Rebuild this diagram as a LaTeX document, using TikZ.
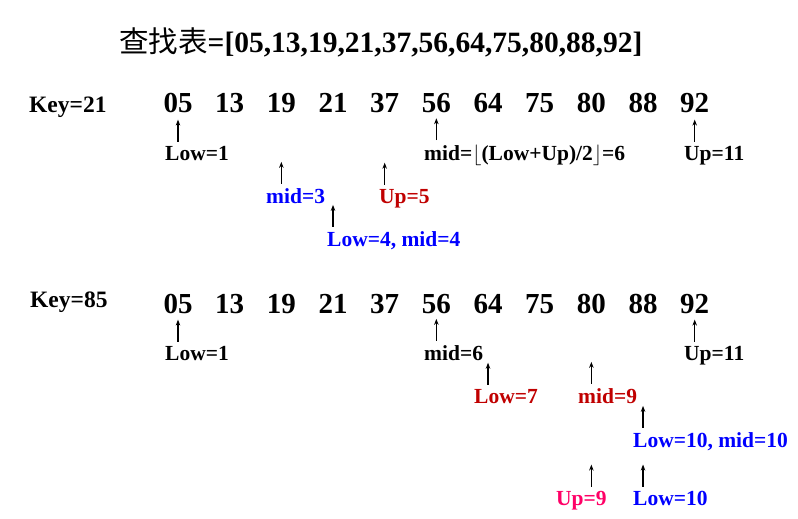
\documentclass[tikz,border=0pt]{standalone}
\usepackage{fontspec}
\setmainfont{Liberation Serif}
\newfontfamily\cjkfont{Noto Sans CJK SC}
\usepackage{xcolor}
\usetikzlibrary{arrows.meta,positioning}

\definecolor{darkred}{RGB}{192,0,0}
\definecolor{pinkred}{RGB}{255,0,102}
\definecolor{pureblue}{RGB}{0,0,255}

\begin{document}
\begin{tikzpicture}[
  x=1pt, y=-1pt,
  >={Stealth[length=6pt,width=4.5pt]},
  every node/.style={inner sep=1pt},
  num/.style={anchor=base, font=\fontsize{29}{31}\selectfont\bfseries},
  key/.style={anchor=base west, font=\fontsize{23.5}{26}\selectfont\bfseries},
  lbl/.style={anchor=base west, font=\fontsize{21.5}{24}\selectfont\bfseries},
  ptr/.style={->, line width=1.2pt}
]
\useasboundingbox (0,0) rectangle (798,519);

% title
\node[anchor=base west, font=\fontsize{29.5}{32}\selectfont\bfseries] (title) at (118,53)
  {{\cjkfont\mdseries 查找表}=[05,13,19,21,37,56,64,75,80,88,92]};

% Key=21
\node[key] (key1) at (28,113) {Key=21};
\foreach \v [count=\i] in {05,13,19,21,37,56,64,75,80,88,92}
  \node[num] (a\i) at ({178+51.67*(\i-1)},113) {\v};

\node[lbl] (lowA) at (164,160) {Low=1};
\node[lbl] (midA) at (423,160) {mid=$\lfloor$(Low+Up)/2$\rfloor$=6};
\node[lbl] (upA)  at (683,160) {Up=11};
\node[lbl, pureblue] (midB) at (265,203) {mid=3};
\node[lbl, darkred]  (upB)  at (378,203) {Up=5};
\node[lbl, pureblue] (lowB) at (326,246) {Low=4, mid=4};

\draw[ptr] (lowA.north -| a1) ++(0,-3) -- ++(0,-22);
\draw[ptr] (midA.north -| a6) ++(0,-3) -- ++(0,-22);
\draw[ptr] (upA.north -| a11) ++(0,-3) -- ++(0,-22);
\draw[ptr] (midB.north -| a3) ++(0,-3) -- ++(0,-22);
\draw[ptr] (upB.north -| a5)  ++(0,-3) -- ++(0,-22);
\draw[ptr] (lowB.north -| a4) ++(0,-3) -- ++(0,-22);

% Key=85
\node[key] (key2) at (29,307) {Key=85};
\foreach \v [count=\i] in {05,13,19,21,37,56,64,75,80,88,92}
  \node[num] (b\i) at ({178+51.67*(\i-1)},313) {\v};

\node[lbl] (lowC) at (164,360) {Low=1};
\node[lbl] (midC) at (423,360) {mid=6};
\node[lbl] (upC)  at (683,360) {Up=11};
\node[lbl, darkred]  (lowD) at (473,403) {Low=7};
\node[lbl, darkred]  (midD) at (577,403) {mid=9};
\node[lbl, pureblue] (lowE) at (632,447) {Low=10, mid=10};
\node[lbl, pinkred]  (upF)  at (555,505) {Up=9};
\node[lbl, pureblue] (lowF) at (632,505) {Low=10};

\draw[ptr] (lowC.north -| b1) ++(0,-3) -- ++(0,-22);
\draw[ptr] (midC.north -| b6) ++(0,-3) -- ++(0,-22);
\draw[ptr] (upC.north -| b11) ++(0,-3) -- ++(0,-22);
\draw[ptr] (lowD.north -| b7) ++(0,-3) -- ++(0,-22);
\draw[ptr] (midD.north -| b9) ++(0,-3) -- ++(0,-22);
\draw[ptr] (lowE.north -| b10) ++(0,-3) -- ++(0,-22);
\draw[ptr] (upF.north -| b9)  ++(0,-3) -- ++(0,-22);
\draw[ptr] (lowF.north -| b10) ++(0,-3) -- ++(0,-22);
\end{tikzpicture}
\end{document}
